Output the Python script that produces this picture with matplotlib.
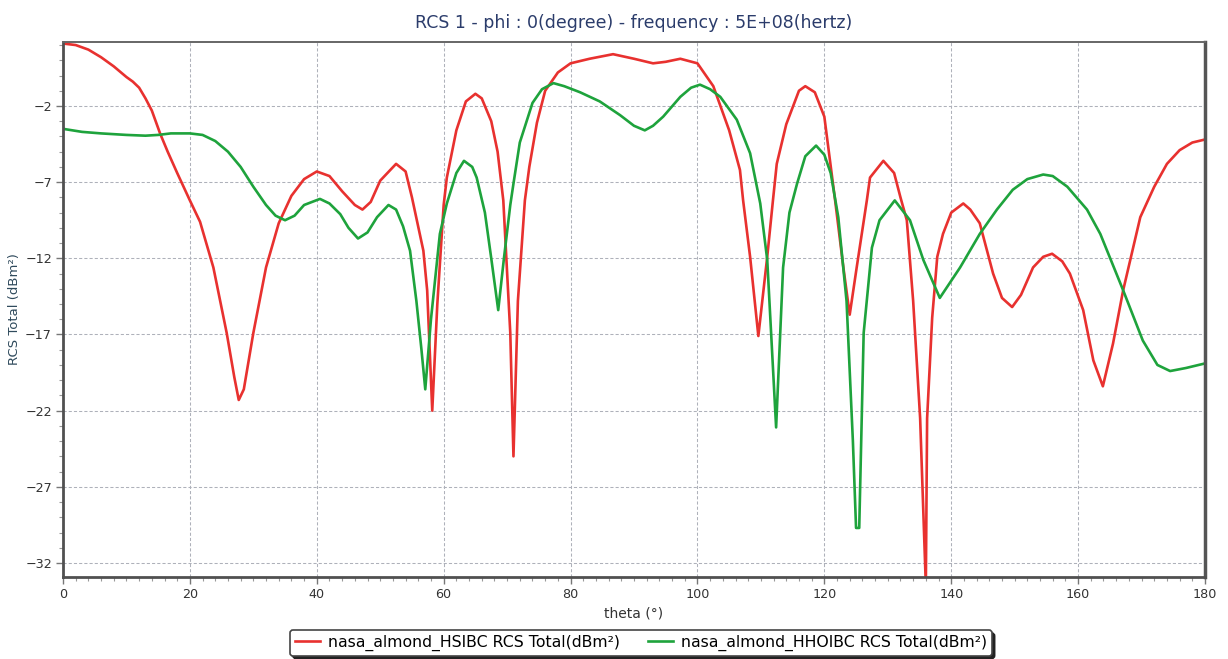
"""RCS total vs theta for the NASA almond, HSIBC vs HHOIBC, phi = 0, 500 MHz."""
import matplotlib
matplotlib.use("Agg")
import matplotlib.pyplot as plt
from matplotlib.lines import Line2D
from matplotlib.ticker import MultipleLocator
import numpy as np

# --- data ------------------------------------------------------------------
theta_hsibc = [
    0, 2, 4, 6, 8, 10, 11, 12, 13, 14, 15.3, 16.5, 18, 20, 21.6, 23.7, 25.8,
    27, 27.7, 28.5, 30, 32, 34, 36, 38, 40, 42, 44, 46, 47.2, 48.5, 50, 52.5,
    54, 55, 56.8, 57.4, 58.2, 59, 60, 60.5, 62, 63.5, 65, 66, 67.5, 68.5, 69.4,
    70.5, 71, 71.7, 72.8, 73.5, 74.7, 76, 78, 80, 83, 86.7, 90, 93, 95, 97.3,
    100, 102.5, 105, 106.7, 107.2, 108.3, 109.6, 111, 111.9, 112.5, 114, 116,
    117, 118.5, 120, 121.7, 123, 124, 125.1, 126.7, 127.2, 129.3, 131, 132,
    133, 134, 135.1, 136, 136.2, 137, 137.8, 138.7, 140, 141.9, 143, 144.5,
    146.6, 148, 149.6, 151, 152.9, 154.5, 155.9, 157.5, 158.7, 160.8, 162.4,
    163.9, 165.5, 167.1, 169.8, 172, 174, 176, 178, 180,
]
rcs_hsibc = [
    2.1, 2.0, 1.7, 1.2, 0.6, -0.1, -0.4, -0.8, -1.5, -2.3, -3.8, -5.0, -6.4,
    -8.2, -9.6, -12.6, -16.9, -19.8, -21.3, -20.6, -16.9, -12.6, -9.7, -7.9,
    -6.8, -6.3, -6.6, -7.6, -8.5, -8.8, -8.3, -6.9, -5.8, -6.3, -8.0, -11.5,
    -14.1, -22.0, -15.0, -8.5, -6.7, -3.6, -1.7, -1.2, -1.5, -3.0, -5.0, -8.2,
    -16.9, -25.0, -14.8, -8.2, -6.0, -3.1, -1.0, 0.2, 0.8, 1.1, 1.4, 1.1, 0.8,
    0.9, 1.1, 0.8, -0.7, -3.6, -6.2, -8.2, -11.9, -17.1, -11.9, -8.2, -5.8,
    -3.2, -1.0, -0.7, -1.1, -2.7, -8.2, -12.6, -15.7, -12.6, -8.2, -6.7, -5.6,
    -6.4, -8.0, -9.5, -14.8, -22.5, -33.5, -22.5, -15.9, -11.9, -10.4, -9.0,
    -8.4, -8.8, -9.7, -13.0, -14.6, -15.2, -14.4, -12.6, -11.9, -11.7, -12.2,
    -13.0, -15.4, -18.7, -20.4, -17.6, -14.1, -9.3, -7.3, -5.8, -4.9, -4.4,
    -4.2,
]

theta_hhoibc = [
    0, 3, 6, 10, 13, 15, 17, 20, 22, 24, 26, 28, 30, 32, 33.5, 35, 36.5, 38,
    40.5, 42, 43.7, 45, 46.5, 48, 49.5, 51.3, 52.5, 53.6, 54.7, 55.7, 56.5,
    57.1, 58, 59.4, 60.5, 62, 63.2, 64.5, 65.2, 66.5, 67.5, 68.6, 69.5, 70.5,
    71, 72, 74, 75.5, 77.3, 79, 81.5, 84.6, 87.8, 90, 91.7, 93, 94.6, 97.3,
    99, 100.4, 102, 103.6, 106.2, 108.3, 109.9, 111, 112.4, 113.5, 114.5,
    115.7, 117, 118.7, 120, 121, 122.2, 123.5, 124.5, 125, 125.5, 126.2,
    127.5, 128.7, 131.1, 133.5, 135.6, 138.2, 141.4, 144.5, 147.2, 149.7, 152,
    154.5, 156, 158.3, 161.4, 163.5, 167.1, 170.2, 172.5, 174.5, 177, 180,
]
rcs_hhoibc = [
    -3.5, -3.7, -3.8, -3.9, -3.95, -3.9, -3.8, -3.8, -3.9, -4.3, -5.0, -6.0,
    -7.3, -8.5, -9.2, -9.5, -9.2, -8.5, -8.1, -8.4, -9.1, -10.0, -10.7, -10.3,
    -9.3, -8.5, -8.8, -9.9, -11.5, -14.8, -18.0, -20.6, -16.0, -10.4, -8.4,
    -6.4, -5.6, -6.0, -6.7, -9.0, -12.0, -15.4, -12.0, -8.5, -7.1, -4.4, -1.8,
    -0.9, -0.5, -0.7, -1.1, -1.7, -2.6, -3.3, -3.6, -3.3, -2.7, -1.4, -0.8,
    -0.6, -0.9, -1.4, -2.9, -5.1, -8.4, -12.1, -23.1, -12.6, -9.0, -7.1, -5.3,
    -4.6, -5.2, -6.4, -9.3, -14.8, -24.0, -29.7, -29.7, -16.9, -11.3, -9.5,
    -8.2, -9.5, -12.1, -14.6, -12.6, -10.4, -8.8, -7.5, -6.8, -6.5, -6.6,
    -7.3, -8.8, -10.4, -14.1, -17.4, -19.0, -19.4, -19.2, -18.9,
]

label_hsibc = "nasa_almond_HSIBC RCS Total(dBm\u00b2)"
label_hhoibc = "nasa_almond_HHOIBC RCS Total(dBm\u00b2)"

RED = "#e8312f"
GREEN = "#1ea33c"
GRID = "#aeb1ba"
SPINE = "#505050"

fig = plt.figure(figsize=(12.28, 6.59), dpi=100)
ax = fig.add_axes([63 / 1228, 1 - 577 / 659, (1205 - 63) / 1228, (577 - 42) / 659])

ax.plot(theta_hsibc, rcs_hsibc, color=RED, lw=1.9, label=label_hsibc,
        solid_joinstyle="round")
ax.plot(theta_hhoibc, rcs_hhoibc, color=GREEN, lw=1.9, label=label_hhoibc,
        solid_joinstyle="round")

ax.set_xlim(0, 180)
ax.set_ylim(-32.92, 2.2)
ax.xaxis.set_major_locator(MultipleLocator(20))
ax.xaxis.set_minor_locator(MultipleLocator(2))
ax.set_yticks(np.arange(-32, 0, 5))
ax.yaxis.set_minor_locator(MultipleLocator(1))
ax.grid(True, which="major", color=GRID, lw=0.75, ls=(0, (3, 2)))

ax.tick_params(which="major", length=5, width=1, color="#777777",
               labelsize=9.2, labelcolor="#333333", pad=3)
ax.tick_params(which="minor", length=3, width=0.8, color="#999999")

for side in ("left", "bottom"):
    ax.spines[side].set_color(SPINE)
    ax.spines[side].set_linewidth(2.0)
ax.spines["top"].set_color("#666666")
ax.spines["top"].set_linewidth(1.4)
ax.spines["right"].set_color("#555555")
ax.spines["right"].set_linewidth(2.5)

ax.set_xlabel("theta (\u00b0)", fontsize=10, color="#333333", labelpad=4)
ax.set_ylabel("RCS Total (dBm\u00b2)", fontsize=9.5, color="#2f4a5c",
              va="center")
ax.yaxis.set_label_coords(-0.0425, 0.5)
ax.set_title("RCS 1 - phi : 0(degree) - frequency : 5E+08(hertz)",
             fontsize=12.5, color="#2b3c6b", pad=10)

leg = fig.legend(loc="center", bbox_to_anchor=(641 / 1228, 1 - 643 / 659),
                 ncol=2, fontsize=11.3, frameon=True, fancybox=True,
                 shadow={"color": "#222222", "alpha": 1.0}, edgecolor="#444444",
                 handlelength=1.6, handletextpad=0.5, columnspacing=1.8,
                 borderpad=0.3)
leg.get_frame().set_linewidth(1.2)

# divider between the two legend entries
fig.add_artist(Line2D([636 / 1228, 636 / 1228], [1 - 655 / 659, 1 - 631 / 659],
                      transform=fig.transFigure, color="#444444", lw=0.9))

fig.savefig("out.png", dpi=100, facecolor="white")
